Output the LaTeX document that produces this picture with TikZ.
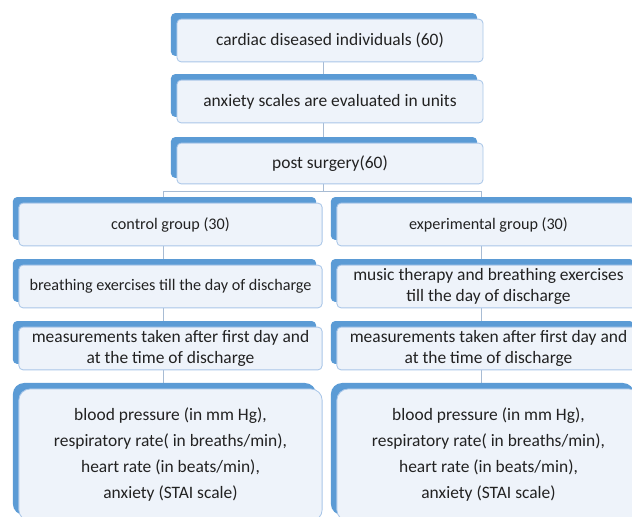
\documentclass[tikz,border=0pt]{standalone}
\usepackage{fontspec}
\setmainfont{Carlito}
\usetikzlibrary{shadows,backgrounds}

\definecolor{sblue}{HTML}{5B9BD5}
\definecolor{boxfill}{HTML}{EEF3FA}
\definecolor{boxline}{HTML}{A9C6E8}
\definecolor{linkgrey}{HTML}{A8BCD4}
\definecolor{txtgrey}{HTML}{222222}

\tikzset{
  flowbox/.style={rectangle, rounded corners=3pt, draw=boxline, fill=boxfill,
    line width=0.6pt, align=center, text=txtgrey,
    font=\fontsize{12.4}{14.4}\selectfont,
    minimum width=7.58cm, minimum height=1.07cm, inner sep=0pt,
    general shadow={fill=sblue, draw=none, shadow xshift=-0.15cm, shadow yshift=0.15cm}},
  smalltext/.style={font=\fontsize{11.5}{14}\selectfont},
  bigbox/.style={flowbox, rounded corners=8pt, font=\fontsize{12.4}{18.5}\selectfont,
    minimum height=3.3cm},
  link/.style={draw=linkgrey, line width=0.6pt}
}

\begin{document}
\begin{tikzpicture}[x=0.025cm,y=-0.025cm]
        \clip (0,0) rectangle (632,517);

        % middle column
        \node[flowbox, minimum width=7.65cm] (cardiac) at (330,40.5) {cardiac diseased individuals (60)};
        \node[flowbox, minimum width=7.65cm] (scales) at (330,101.5) {anxiety scales are evaluated in units};
        \node[flowbox, minimum width=7.65cm, minimum height=1.02cm] (surgery) at (330,163.5) {post surgery(60)};

        % control group
        \node[flowbox, smalltext] (ctrl) at (170.5,224.5) {control group (30)};
        \node[flowbox, smalltext] (breath) at (170.5,286.5) {breathing exercises till the day of discharge};
        \node[flowbox] (measA) at (170.5,348.5) {measurements taken after first day and\\at the time of discharge};
        \node[bigbox] (vitalsA) at (170.5,455) {blood pressure (in mm Hg),\\respiratory rate( in breaths/min),\\heart rate (in beats/min),\\anxiety (STAI scale)};

        % experimental group
        \node[flowbox, smalltext] (expt) at (488.5,224.5) {experimental group (30)};
        \node[flowbox] (music) at (488.5,286.5) {music therapy and breathing exercises\\till the day of discharge};
        \node[flowbox] (measB) at (488.5,348.5) {measurements taken after first day and\\at the time of discharge};
        \node[bigbox] (vitalsB) at (488.5,455) {blood pressure (in mm Hg),\\respiratory rate( in breaths/min),\\heart rate (in beats/min),\\anxiety (STAI scale)};

        \begin{scope}[on background layer]
        \draw[link] ([xshift=-0.17cm]cardiac.south) -- ([xshift=-0.17cm]scales.north);
        \draw[link] ([xshift=-0.17cm]scales.south) -- ([xshift=-0.17cm]surgery.north);
        \draw[link] ([xshift=-0.17cm]surgery.south) -- ++(0,-0.17cm) -| ([xshift=-0.17cm]ctrl.north);
        \draw[link] ([xshift=-0.17cm]surgery.south) -- ++(0,-0.17cm) -| ([xshift=-0.17cm]expt.north);
        \draw[link] ([xshift=-0.17cm]ctrl.south) -- ([xshift=-0.17cm]breath.north);
        \draw[link] ([xshift=-0.17cm]breath.south) -- ([xshift=-0.17cm]measA.north);
        \draw[link] ([xshift=-0.17cm]measA.south) -- ([xshift=-0.17cm]vitalsA.north);
        \draw[link] ([xshift=-0.17cm]expt.south) -- ([xshift=-0.17cm]music.north);
        \draw[link] ([xshift=-0.17cm]music.south) -- ([xshift=-0.17cm]measB.north);
        \draw[link] ([xshift=-0.17cm]measB.south) -- ([xshift=-0.17cm]vitalsB.north);
        \end{scope}
\end{tikzpicture}
\end{document}
